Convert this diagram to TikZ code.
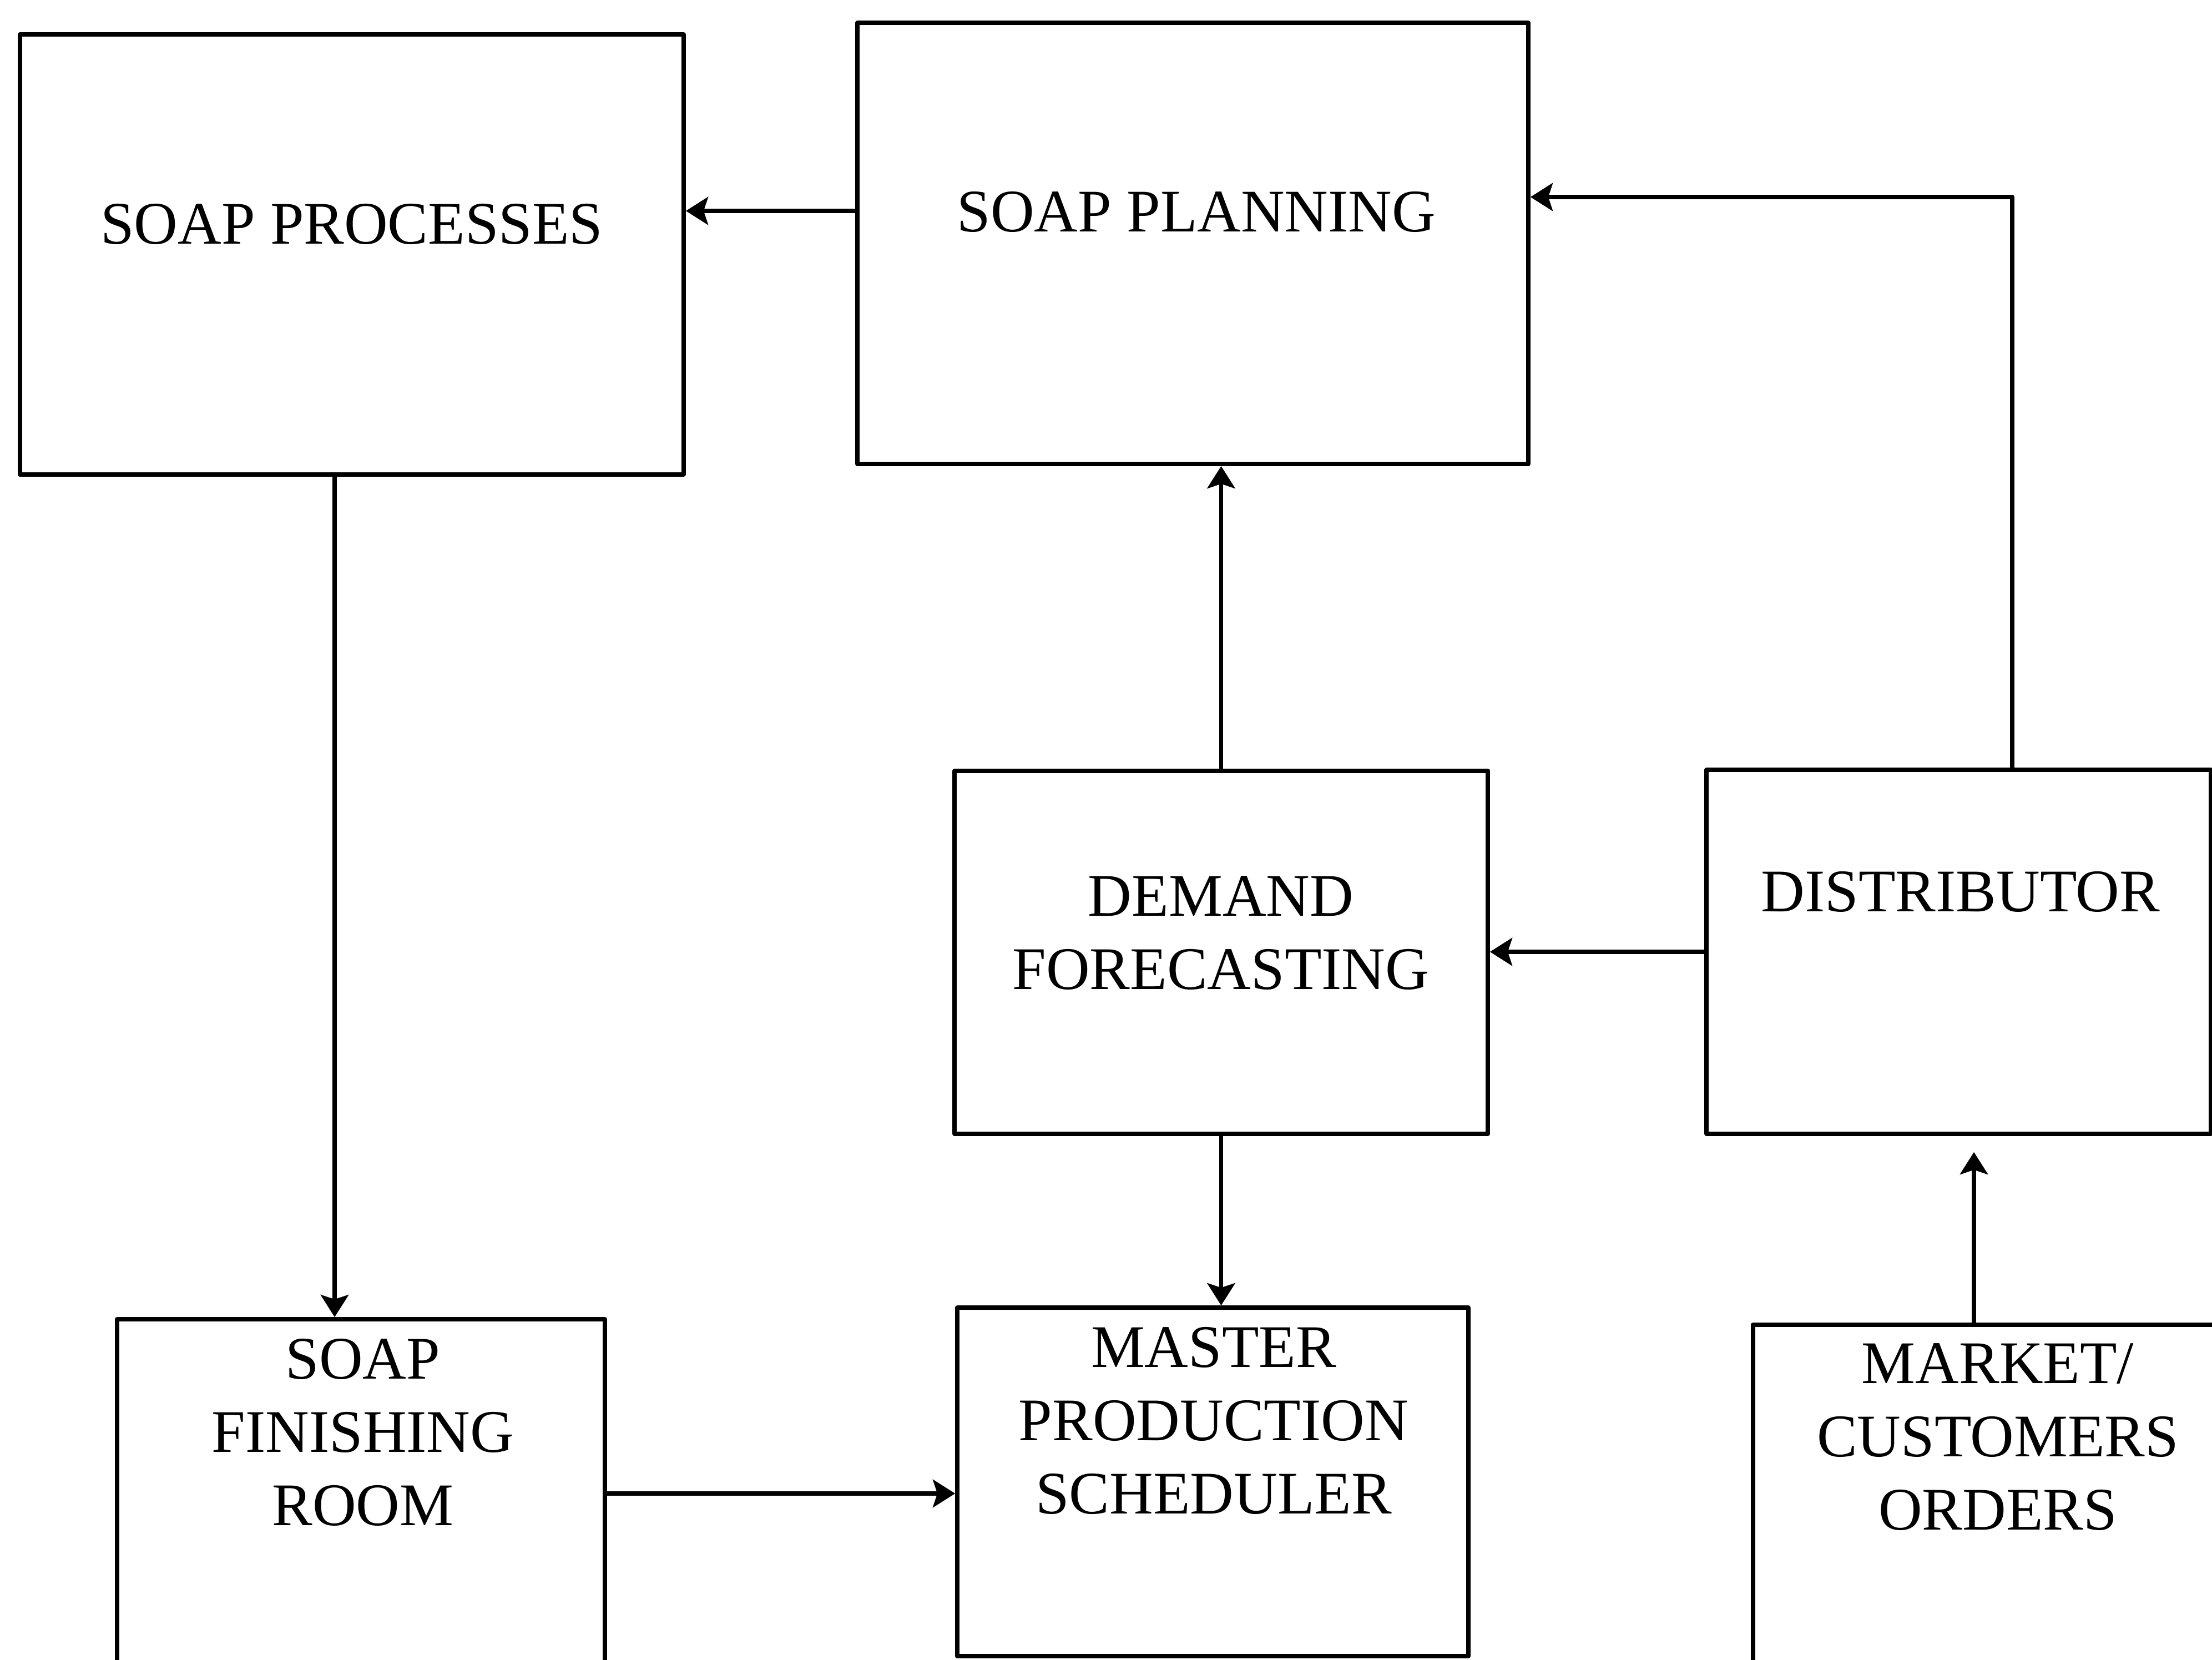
\documentclass[tikz,border=0pt]{standalone}
\usepackage{fontspec}
\setmainfont{Liberation Serif}
\usetikzlibrary{arrows.meta}

\tikzset{
  blk/.style={draw, rectangle, inner sep=0pt},
  lbl/.style={font=\fontsize{31}{37.5}\selectfont, align=center, inner sep=0pt, anchor=base},
}

\begin{document}
\begin{tikzpicture}[x=1cm, y=-1cm, line width=2.2pt, line join=round, >={Stealth[length=4mm, width=5mm, inset=0.8mm]}]
	\useasboundingbox (0,0) rectangle (39.86,29.91);
	
	% boxes
	\node[blk, minimum width=11.96cm, minimum height=7.93cm] (proc) at (6.34,4.585) {};
	\node[blk, minimum width=12.09cm, minimum height=7.95cm] (plan) at (21.495,4.385) {};
	\node[blk, minimum width=9.61cm, minimum height=6.54cm] (dem) at (22.005,17.16) {};
	\node[blk, minimum width=9.09cm, minimum height=6.56cm] (dist) at (35.295,17.15) {};
	\node[blk, minimum width=8.79cm, minimum height=6.8cm] (fin) at (6.505,27.17) {};
	\node[blk, minimum width=9.21cm, minimum height=6.28cm] (mps) at (21.855,26.7) {};
	\node[blk, minimum width=8.8cm, minimum height=6.8cm] (mkt) at (35.99,27.27) {};
	
	% labels (base = last line)
	\node[lbl] (procT) at (6.34,4.40) {SOAP PROCESSES};
	\node[lbl] (planT) at (21.56,4.18) {SOAP PLANNING};
	\node[lbl] (demT) at (22.0,17.82) {DEMAND\\FORECASTING};
	\node[lbl] (distT) at (35.33,16.42) {DISTRIBUTOR};
	\node[lbl] (finT) at (6.54,27.48) {SOAP\\FINISHING\\ROOM};
	\node[lbl] (mpsT) at (21.87,27.27) {MASTER\\PRODUCTION\\SCHEDULER};
	\node[lbl] (mktT) at (36.0,27.56) {MARKET/\\CUSTOMERS\\ORDERS};
	
	% flows
	\draw[->] (plan.west |- 0,3.80) -- (proc.east |- 0,3.80);
	\draw[->] (proc.south -| 6.03,0) -- (fin.north -| 6.03,0);
	\draw[->] (dem.north) -- (plan.south -| dem.north);
	\draw[->] (dist.north -| 36.26,0) |- (plan.east |- 0,3.55);
	\draw[->] (dist.west) -- (dem.east |- dist.west);
	\draw[->] (dem.south) -- (mps.north -| dem.south);
	\draw[->] (fin.east |- 0,26.91) -- (mps.west |- 0,26.91);
	\draw[->, shorten >=2.9mm] (mkt.north -| 35.57,0) -- (dist.south -| 35.57,0);
\end{tikzpicture}
\end{document}
